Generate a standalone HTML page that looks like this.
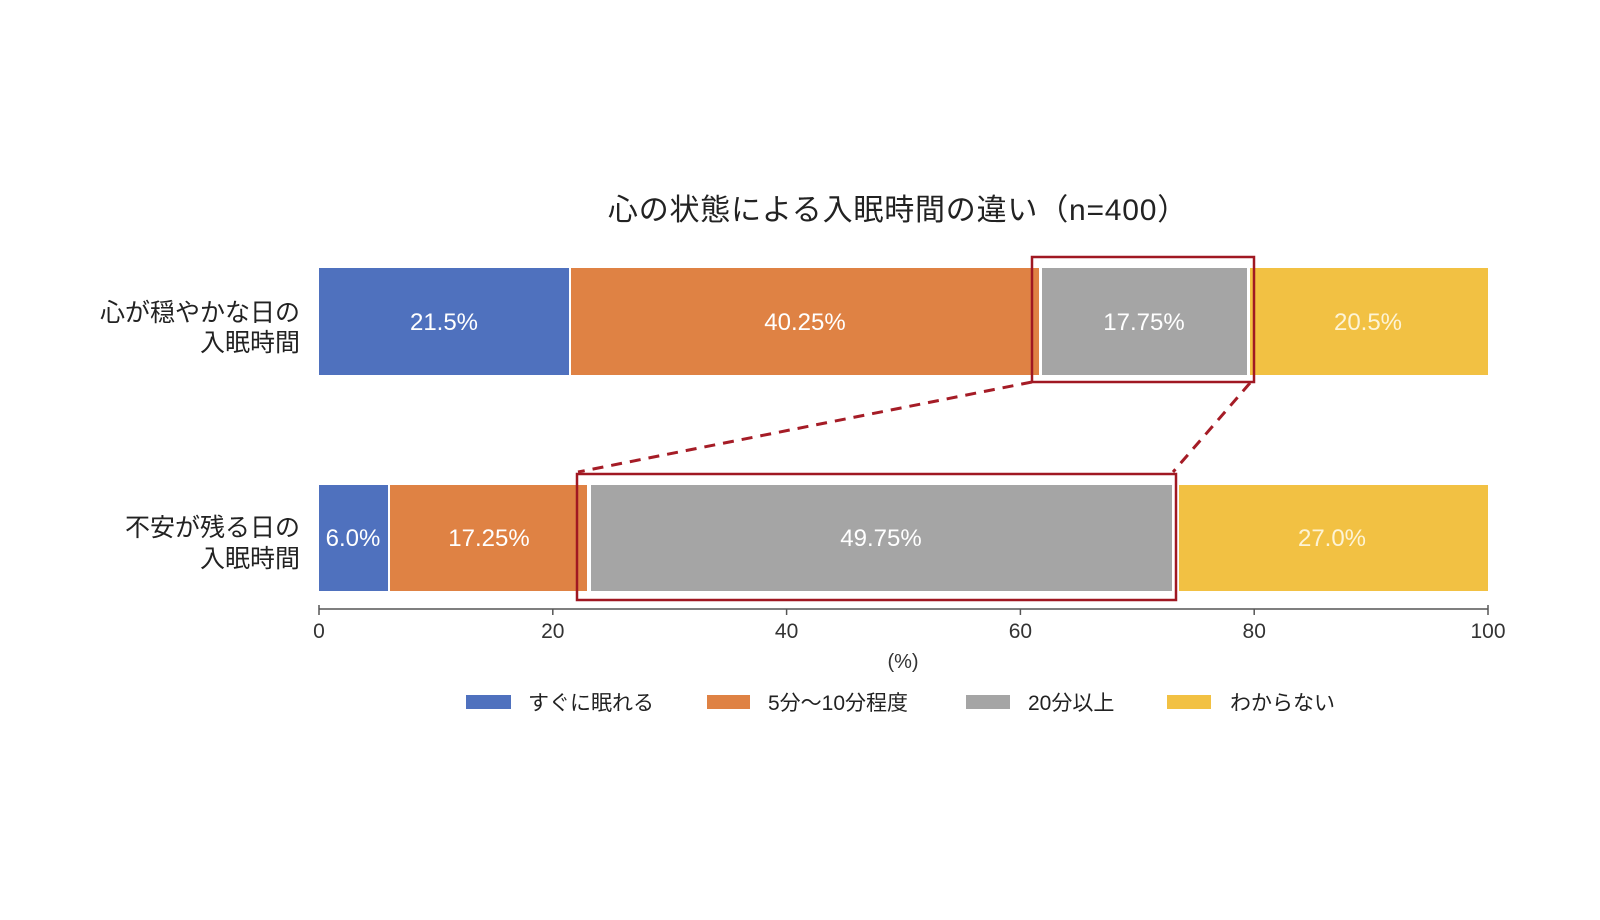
<!DOCTYPE html>
<html>
<head>
<meta charset="utf-8">
<style>
  html, body { margin:0; padding:0; background:#ffffff; }
  body { width:1600px; height:920px; overflow:hidden; }
  svg { display:block; }
  .jp { font-family: "Liberation Sans", "Noto Sans CJK JP", sans-serif; }
</style>
</head>
<body>
<svg width="1600" height="920" viewBox="0 0 1600 920" xmlns="http://www.w3.org/2000/svg">
  <rect x="0" y="0" width="1600" height="920" fill="#ffffff"/>

  <!-- Title -->
  <text class="jp" x="898" y="220" font-size="30" letter-spacing="0.8" fill="#222222" text-anchor="middle">心の状態による入眠時間の違い（n=400）</text>

  <!-- Category labels -->
  <text class="jp" x="300" y="321" font-size="25" fill="#222222" text-anchor="end">心が穏やかな日の</text>
  <text class="jp" x="300" y="351" font-size="25" fill="#222222" text-anchor="end">入眠時間</text>
  <text class="jp" x="300" y="536" font-size="25" fill="#222222" text-anchor="end">不安が残る日の</text>
  <text class="jp" x="300" y="567" font-size="25" fill="#222222" text-anchor="end">入眠時間</text>

  <!-- Top bar -->
  <rect x="319" y="268" width="250" height="107" fill="#4f71be"/>
  <rect x="571" y="268" width="468" height="107" fill="#df8244"/>
  <rect x="1042" y="268" width="205" height="107" fill="#a5a5a5"/>
  <rect x="1250" y="268" width="238" height="107" fill="#f2c143"/>

  <!-- Bottom bar -->
  <rect x="319" y="485" width="69" height="106" fill="#4f71be"/>
  <rect x="390" y="485" width="197" height="106" fill="#df8244"/>
  <rect x="591" y="485" width="581" height="106" fill="#a5a5a5"/>
  <rect x="1179" y="485" width="309" height="106" fill="#f2c143"/>

  <!-- Value labels -->
  <g font-family="Liberation Sans, sans-serif" font-size="24" text-anchor="middle">
    <text x="444" y="330" fill="#ffffff">21.5%</text>
    <text x="805" y="330" fill="#ffffff">40.25%</text>
    <text x="1144" y="330" fill="#ffffff">17.75%</text>
    <text x="1368" y="330" fill="#fdf4d6">20.5%</text>
    <text x="353" y="546" fill="#ffffff">6.0%</text>
    <text x="489" y="546" fill="#ffffff">17.25%</text>
    <text x="881" y="546" fill="#ffffff">49.75%</text>
    <text x="1332" y="546" fill="#fdf4d6">27.0%</text>
  </g>

  <!-- Highlight boxes -->
  <rect x="1032" y="257" width="222" height="125" fill="none" stroke="#a01822" stroke-width="2.5"/>
  <rect x="577" y="474" width="599" height="126" fill="none" stroke="#a01822" stroke-width="2.5"/>

  <!-- Dashed connectors -->
  <line x1="1032" y1="382" x2="578" y2="472" stroke="#a51c26" stroke-width="3" stroke-dasharray="11 8"/>
  <line x1="1250" y1="383" x2="1173" y2="472" stroke="#a51c26" stroke-width="3" stroke-dasharray="11 8"/>

  <!-- Axis -->
  <line x1="319" y1="609" x2="1488" y2="609" stroke="#555555" stroke-width="1.5"/>
  <g stroke="#555555" stroke-width="1.5">
    <line x1="319" y1="605" x2="319" y2="615"/>
    <line x1="552.8" y1="609" x2="552.8" y2="615"/>
    <line x1="786.6" y1="609" x2="786.6" y2="615"/>
    <line x1="1020.4" y1="609" x2="1020.4" y2="615"/>
    <line x1="1254.2" y1="609" x2="1254.2" y2="615"/>
    <line x1="1488" y1="605" x2="1488" y2="615"/>
  </g>
  <g font-family="Liberation Sans, sans-serif" font-size="21" fill="#333333" text-anchor="middle">
    <text x="319" y="638">0</text>
    <text x="552.8" y="638">20</text>
    <text x="786.6" y="638">40</text>
    <text x="1020.4" y="638">60</text>
    <text x="1254.2" y="638">80</text>
    <text x="1488" y="638">100</text>
    <text x="903" y="668" font-size="20">(%)</text>
  </g>

  <!-- Legend -->
  <rect x="466" y="695" width="45" height="14" fill="#4f71be"/>
  <text class="jp" x="528" y="710" font-size="21" fill="#222222">すぐに眠れる</text>
  <rect x="707" y="695" width="43" height="14" fill="#df8244"/>
  <text class="jp" x="768" y="710" font-size="21" fill="#222222">5分〜10分程度</text>
  <rect x="966" y="695" width="44" height="14" fill="#a5a5a5"/>
  <text class="jp" x="1028" y="710" font-size="21" fill="#222222">20分以上</text>
  <rect x="1167" y="695" width="44" height="14" fill="#f2c143"/>
  <text class="jp" x="1230" y="710" font-size="21" fill="#222222">わからない</text>
</svg>
</body>
</html>
